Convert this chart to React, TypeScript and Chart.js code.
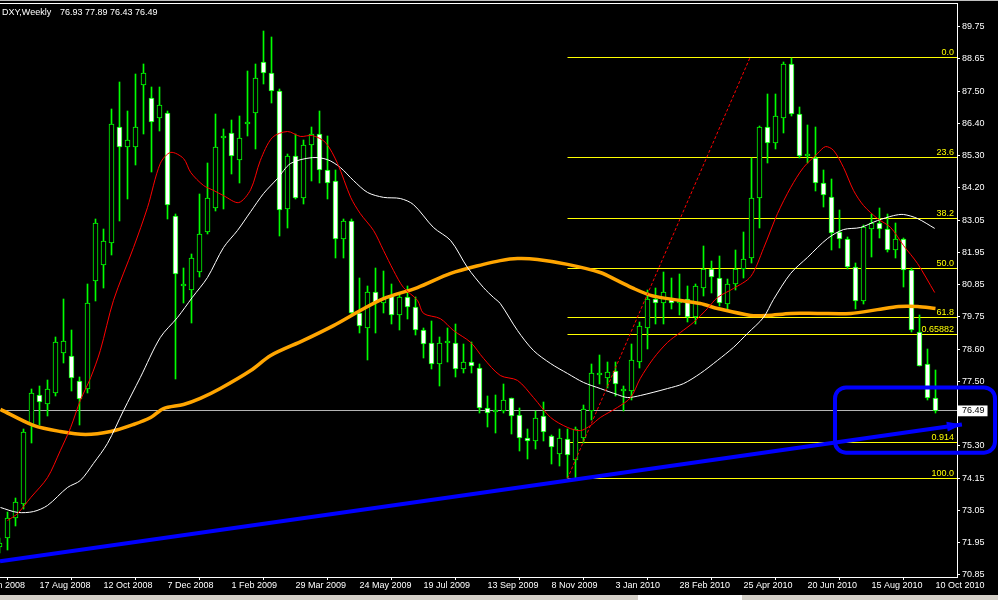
import { useEffect, useRef } from 'react';
import { Chart, registerables } from 'chart.js';

Chart.register(...registerables);

// ---------- data (weekly DXY candles, week index 0 = 13 Jul 2008) ----------
const openPrices = [
  71.80, 72.12, 72.81, 73.29, 76.02, 77.05, 76.71, 77.12, 78.50, 78.37,
  77.53, 77.26, 80.95, 81.53, 82.29, 86.29, 85.57, 85.57, 87.71, 87.29,
  86.60, 86.77, 83.22, 80.81, 80.67, 81.26, 82.67, 83.50, 85.91, 86.08,
  85.15, 86.39, 86.77, 88.50, 88.12, 87.50, 83.46, 85.26, 83.84, 85.67,
  86.05, 84.81, 84.43, 82.43, 83.05, 79.85, 79.33, 80.60, 80.22, 80.46,
  79.81, 80.43, 80.08, 79.29, 78.84, 78.09, 78.84, 78.84, 77.95, 78.19,
  77.98, 76.60, 76.45, 76.50, 76.92, 76.36, 75.57, 75.46, 76.33, 75.64,
  75.02, 75.53, 74.81, 75.57, 76.47, 77.74, 77.64, 77.88, 77.16, 77.19,
  78.16, 79.36, 80.36, 80.22, 80.39, 80.22, 80.36, 79.71, 80.74, 81.39,
  81.08, 80.19, 80.88, 81.39, 81.77, 83.84, 86.26, 85.71, 86.60, 88.43,
  86.74, 85.26, 85.22, 84.36, 83.87, 82.67, 82.43, 81.46, 80.29, 82.77,
  82.98, 82.77, 82.02, 82.43, 81.36, 79.22, 78.09, 76.93,
];
const highPrices = [
  72.10, 73.02, 73.50, 75.88, 77.23, 77.36, 77.57, 79.05, 80.36, 79.29,
  77.67, 80.88, 83.12, 82.77, 86.91, 87.81, 86.84, 88.09, 88.43, 87.67,
  87.64, 86.84, 83.29, 81.43, 81.91, 83.98, 85.05, 86.74, 86.22, 86.50,
  86.67, 88.19, 88.43, 89.57, 89.39, 87.57, 85.36, 86.05, 85.84, 86.26,
  86.81, 85.95, 84.81, 83.12, 83.12, 81.08, 80.81, 81.43, 81.32, 80.88,
  80.57, 80.81, 80.43, 79.36, 79.60, 79.02, 79.33, 79.47, 78.81, 78.88,
  78.12, 77.02, 77.05, 77.43, 76.95, 76.60, 75.85, 76.50, 76.78, 75.67,
  75.88, 75.88, 75.92, 76.68, 78.12, 78.40, 78.16, 78.16, 77.36, 78.81,
  79.57, 80.64, 80.74, 81.29, 81.08, 81.22, 80.81, 80.88, 82.16, 81.64,
  81.84, 81.05, 82.05, 82.67, 85.22, 86.32, 87.40, 87.40, 88.50, 88.67,
  86.95, 86.36, 86.26, 84.78, 84.50, 83.43, 82.50, 81.60, 82.91, 83.29,
  83.50, 83.29, 82.95, 82.46, 81.43, 79.78, 78.64, 77.89,
];
const lowPrices = [
  71.60, 71.68, 72.53, 73.12, 75.40, 76.02, 76.33, 77.00, 78.13, 77.19,
  76.02, 77.12, 80.29, 80.71, 81.88, 83.02, 83.81, 84.98, 86.05, 84.71,
  86.15, 83.12, 77.60, 80.22, 79.53, 81.09, 82.60, 83.39, 83.46, 84.67,
  84.36, 85.98, 85.53, 87.77, 87.09, 82.53, 82.81, 83.81, 83.63, 84.43,
  84.36, 83.81, 81.77, 81.77, 79.78, 79.16, 78.26, 79.16, 79.88, 79.50,
  79.29, 79.64, 79.09, 78.33, 77.95, 77.36, 78.16, 77.67, 77.78, 77.78,
  76.40, 75.92, 75.74, 76.40, 75.71, 75.12, 74.84, 75.19, 75.46, 74.67,
  74.60, 74.16, 74.19, 75.40, 76.16, 77.43, 77.29, 77.02, 76.50, 76.85,
  77.98, 78.64, 79.50, 79.50, 80.01, 79.78, 79.57, 79.47, 80.46, 80.57,
  80.12, 80.01, 80.64, 81.08, 81.60, 82.81, 85.05, 85.53, 86.08, 86.67,
  85.22, 85.02, 84.08, 83.53, 82.02, 82.12, 81.39, 80.01, 80.19, 81.81,
  82.46, 81.95, 81.77, 80.77, 79.22, 78.02, 76.85, 76.43,
];
const closePrices = [
  71.94, 72.81, 73.36, 75.77, 77.12, 76.78, 77.26, 78.88, 78.91, 77.64,
  76.91, 80.22, 82.95, 82.36, 86.39, 85.57, 85.84, 86.29, 88.12, 86.46,
  87.05, 83.60, 81.22, 80.85, 81.77, 82.60, 83.84, 85.57, 85.95, 85.29,
  85.88, 86.43, 87.95, 88.12, 87.50, 83.43, 85.26, 83.84, 85.67, 86.05,
  84.81, 84.36, 82.43, 83.05, 79.85, 79.40, 80.60, 80.22, 80.36, 79.81,
  80.43, 80.08, 79.29, 78.81, 78.09, 78.84, 78.87, 77.95, 78.19, 78.02,
  76.60, 76.43, 76.49, 76.88, 76.33, 75.57, 75.46, 76.26, 75.77, 75.26,
  75.57, 74.98, 75.85, 76.54, 77.78, 77.81, 77.84, 77.43, 77.26, 78.23,
  79.40, 80.36, 80.22, 80.60, 80.22, 80.32, 79.71, 80.78, 81.39, 81.12,
  80.22, 80.88, 81.39, 81.74, 83.84, 86.26, 85.71, 86.67, 88.43, 86.74,
  85.29, 85.29, 84.36, 83.94, 82.63, 82.43, 81.46, 80.29, 82.84, 82.98,
  82.77, 82.02, 82.43, 81.36, 79.29, 78.05, 76.92, 76.49,
];

// moving averages: [week, price]
const redMa: [number, number][] = [
  [1.0, 72.71], [2.25, 72.95], [3.9, 73.50], [6.0, 74.19], [7.6, 75.12], [8.9, 75.92],
  [10.1, 76.85], [11.4, 77.64], [12.6, 78.57], [14.25, 80.30], [16.75, 82.12], [18.5, 83.50],
  [20.1, 85.02], [21.4, 85.40], [23.0, 85.19], [23.9, 84.71], [25.5, 84.26], [26.75, 84.09],
  [28.0, 83.91], [29.9, 83.67], [31.4, 84.12], [32.6, 85.12], [34.1, 85.91], [36.0, 86.12],
  [37.6, 85.95], [39.1, 85.98], [40.75, 85.74], [42.25, 85.02], [43.9, 83.85], [45.1, 83.29],
  [46.75, 82.71], [48.0, 82.02], [49.25, 81.33], [50.5, 80.74], [52.25, 80.30], [53.0, 79.85],
  [55.1, 79.67], [56.75, 79.26], [58.9, 78.85], [60.5, 78.30], [62.6, 77.71], [64.75, 77.54],
  [66.75, 76.95], [68.9, 76.26], [71.0, 75.92], [72.6, 75.81], [73.9, 75.99], [75.1, 76.26],
  [77.25, 76.61], [78.9, 76.95], [80.1, 77.61], [81.75, 78.30], [83.5, 78.85], [85.1, 79.19],
  [86.75, 79.54], [88.5, 80.02], [89.75, 80.40], [91.75, 80.71], [93.9, 81.12], [95.5, 82.09],
  [97.25, 83.29], [98.9, 84.19], [100.5, 84.88], [102.25, 85.36], [103.25, 85.60], [104.25, 85.47],
  [105.5, 84.88], [106.75, 84.09], [108.0, 83.57], [109.75, 83.12], [111.4, 82.81], [113.0, 82.19],
  [114.75, 81.57], [116.9, 80.57],
];
const whiteMa: [number, number][] = [
  [0.125, 73.16], [2.25, 72.99], [4.25, 73.02], [6.0, 73.23], [8.5, 73.85], [10.1, 74.09],
  [11.75, 74.68], [13.5, 75.37], [15.5, 76.50], [17.6, 77.64], [20.1, 79.02], [22.25, 79.71],
  [24.1, 80.40], [26.0, 81.09], [28.0, 82.12], [29.75, 82.71], [31.4, 83.36], [33.0, 83.98],
  [34.75, 84.50], [36.4, 85.02], [39.1, 85.22], [41.0, 85.15], [42.6, 84.88], [44.25, 84.43],
  [46.0, 84.02], [48.0, 83.85], [50.1, 83.81], [51.75, 83.60], [54.25, 82.81], [56.4, 82.36],
  [58.5, 81.43], [60.5, 80.74], [61.75, 80.40], [62.6, 80.19], [64.75, 79.26], [66.75, 78.57],
  [68.9, 78.12], [71.0, 77.78], [73.0, 77.47], [75.1, 77.26], [77.25, 77.05], [78.5, 76.95],
  [80.1, 77.02], [83.5, 77.26], [85.5, 77.43], [87.6, 77.78], [89.75, 78.23], [91.75, 78.68],
  [93.5, 79.16], [95.5, 79.71], [96.75, 80.33], [98.9, 81.23], [101.0, 81.78], [103.5, 82.43],
  [105.5, 82.74], [107.6, 82.81], [109.75, 83.05], [111.75, 83.22], [113.0, 83.26], [114.75, 83.12],
  [116.9, 82.78],
];
const orangeMa: [number, number][] = [
  [0.125, 76.54], [4.25, 75.99], [7.6, 75.78], [10.75, 75.68], [13.9, 75.78], [16.75, 76.02],
  [18.9, 76.26], [20.5, 76.57], [23.0, 76.71], [25.1, 76.92], [27.6, 77.26], [31.4, 77.88],
  [33.9, 78.40], [38.0, 78.92], [41.75, 79.43], [45.1, 79.95], [48.0, 80.36], [52.25, 80.74],
  [56.4, 81.23], [60.5, 81.54], [62.6, 81.67], [64.75, 81.74], [67.25, 81.71], [71.0, 81.54],
  [75.1, 81.26], [77.25, 80.98], [79.25, 80.71], [81.4, 80.47], [83.5, 80.36], [87.6, 80.19],
  [89.75, 80.02], [93.9, 79.78], [96.0, 79.78], [98.9, 79.85], [102.25, 79.85], [106.4, 79.85],
  [109.75, 79.98], [112.4, 80.09], [114.75, 80.09], [117.0, 80.02],
];

// axis ticks
const dateTickWeeks = [-3, 5, 13, 21, 29, 37, 45, 53, 61, 69, 77, 85, 93, 101, 109, 117];
const dateTickLabels = [
  '22 Jun 2008', '17 Aug 2008', '12 Oct 2008', '7 Dec 2008', '1 Feb 2009', '29 Mar 2009',
  '24 May 2009', '19 Jul 2009', '13 Sep 2009', '8 Nov 2009', '3 Jan 2010', '28 Feb 2010',
  '25 Apr 2010', '20 Jun 2010', '15 Aug 2010', '10 Oct 2010',
];
const priceTicks = [
  89.75, 88.65, 87.5, 86.4, 85.3, 84.2, 83.05, 81.95, 80.85, 79.75, 78.6, 77.5,
  76.49, 75.3, 74.15, 73.05, 71.95, 70.85,
];
const lastPrice = 76.49;
const titleText = 'DXY,Weekly';
const titleValues = '76.93 77.89 76.43 76.49';

// Fibonacci retracement
const fibLabels = ['0.0', '23.6', '38.2', '50.0', '61.8', '0.65882', '0.914', '100.0'];
const fibLevels = [88.66, 85.24, 83.12, 81.41, 79.70, 79.11, 75.41, 74.16];
const fibStartWeek = 71;
const fibAnchorWeeks = [71, 93.8];
const fibAnchorPrices = [74.16, 88.66];

// hand-drawn trend line and highlight box
const trendWeeks = [0.0625, 120.3];
const trendPrices = [71.31, 76.02];
const boxWeeks = [104.44, 124.44];
const boxPrices = [77.3, 75.05];

// ---------- layout constants ----------
const X_MIN = 0.0625;
const X_MAX = 119.6875;
const Y_MIN = 70.764;
const Y_MAX = 90.515;
const FONT = 'Liberation Sans';

const annotations = {
  id: 'mtAnnotations',
  beforeDraw(chart: any) {
    const { ctx, width, height, chartArea } = chart;
    ctx.save();
    ctx.fillStyle = '#000';
    ctx.fillRect(0, 0, width, height);
    ctx.fillStyle = '#c0c0c0';
    ctx.fillRect(0, 0, width, 1);
    ctx.fillStyle = '#ffffff';
    ctx.fillRect(0, 3, chartArea.right + 1, 1);
    ctx.fillStyle = '#d4d0c8';
    ctx.fillRect(0, 595, width, 5);
    ctx.fillStyle = '#ffffff';
    ctx.fillRect(638, 595, 104, 5);
    ctx.restore();
  },
  beforeDatasetsDraw(chart: any) {
    // snap horizontal edges to whole pixels (crisp like the terminal)
    chart.data.datasets.forEach((ds: any, i: number) => {
      const meta = chart.getDatasetMeta(i);
      if (ds.snapLine) {
        meta.data.forEach((p: any) => { p.y = Math.floor(p.y) + 0.5; });
      } else if (ds.snapBar) {
        meta.data.forEach((p: any) => {
          p.y = Math.round(p.y);
          p.base = Math.round(p.base);
        });
      }
    });
  },
  afterDatasetsDraw(chart: any) {
    const { ctx, chartArea } = chart;
    const ys = chart.scales.y;
    ctx.save();
    ctx.font = `9px "${FONT}"`;
    ctx.fillStyle = '#ffff00';
    ctx.textAlign = 'right';
    ctx.textBaseline = 'alphabetic';
    fibLabels.forEach((t, i) => {
      const y = Math.floor(ys.getPixelForValue(fibLevels[i]));
      ctx.fillText(t, chartArea.right - 3, y - 2);
    });
    ctx.restore();
  },
  afterDraw(chart: any) {
    const { ctx } = chart;
    const xs = chart.scales.x;
    const ys = chart.scales.y;
    ctx.save();
    // title
    ctx.font = `9px "${FONT}"`;
    ctx.fillStyle = '#ffffff';
    ctx.textAlign = 'left';
    ctx.textBaseline = 'alphabetic';
    ctx.fillText(titleText, 2, 15);
    ctx.fillText(titleValues, 60, 15);
    // arrow head of trend line
    const x0 = xs.getPixelForValue(trendWeeks[0]);
    const y0 = ys.getPixelForValue(trendPrices[0]);
    const x1 = xs.getPixelForValue(trendWeeks[1]);
    const y1 = ys.getPixelForValue(trendPrices[1]);
    const a = Math.atan2(y1 - y0, x1 - x0);
    const L = 15, W = 5;
    const c = Math.cos(a), s = Math.sin(a);
    ctx.fillStyle = '#0000ff';
    ctx.beginPath();
    ctx.moveTo(x1, y1);
    ctx.lineTo(x1 - L * c + W * s, y1 - L * s - W * c);
    ctx.lineTo(x1 - L * c - W * s, y1 - L * s + W * c);
    ctx.closePath();
    ctx.fill();
    // highlight box
    const bx0 = xs.getPixelForValue(boxWeeks[0]);
    const bx1 = xs.getPixelForValue(boxWeeks[1]);
    const by0 = ys.getPixelForValue(boxPrices[0]);
    const by1 = ys.getPixelForValue(boxPrices[1]);
    ctx.strokeStyle = '#0000ff';
    ctx.lineWidth = 4;
    ctx.beginPath();
    (ctx as any).roundRect(bx0, by0, bx1 - bx0, by1 - by0, 11);
    ctx.stroke();
    ctx.restore();
  },
};

export default function App() {
  const ref = useRef<HTMLCanvasElement>(null);
  useEffect(() => {
    if (!ref.current) return;
    const wickData = highPrices.map((h, i) => ({ x: i, y: [lowPrices[i], h] }));
    const bodyData = openPrices.map((o, i) => ({ x: i, y: [o, closePrices[i]] }));
    const bodyColors = openPrices.map((o, i) => (closePrices[i] >= o ? '#000000' : '#ffffff'));
    const toPts = (arr: [number, number][]) => arr.map(([x, y]) => ({ x, y }));

    const lineBase = { type: 'line' as const, pointRadius: 0, fill: false, borderJoinStyle: 'round' as const };

    const datasets: any[] = [
      {
        ...lineBase,
        label: 'trend',
        data: trendWeeks.map((x, i) => ({ x, y: trendPrices[i] })),
        borderColor: '#0000ff',
        borderWidth: 4,
        clip: false,
        order: 0,
      },
      {
        ...lineBase,
        label: 'fib anchor',
        data: fibAnchorWeeks.map((x, i) => ({ x, y: fibAnchorPrices[i] })),
        borderColor: '#ff0000',
        borderWidth: 1,
        borderDash: [3, 2],
        order: 1,
      },
      {
        ...lineBase,
        label: 'MA red',
        data: toPts(redMa),
        borderColor: '#ff0000',
        borderWidth: 1,
        tension: 0.3,
        order: 2,
      },
      {
        ...lineBase,
        label: 'MA white',
        data: toPts(whiteMa),
        borderColor: '#ffffff',
        borderWidth: 1,
        tension: 0.3,
        order: 3,
      },
      {
        ...lineBase,
        label: 'MA orange',
        data: toPts(orangeMa),
        borderColor: '#ffa500',
        borderWidth: 3.5,
        tension: 0.3,
        order: 4,
      },
      {
        type: 'bar',
        label: 'body',
        data: bodyData,
        backgroundColor: bodyColors,
        borderColor: '#00ff00',
        borderWidth: 1,
        borderSkipped: false,
        barThickness: 5,
        minBarLength: 2,
        grouped: false,
        snapBar: true,
        order: 5,
      },
      {
        type: 'bar',
        label: 'wick',
        data: wickData,
        backgroundColor: '#00ff00',
        borderWidth: 0,
        barThickness: 1,
        grouped: false,
        snapBar: true,
        order: 6,
      },
      ...fibLevels.map((lv, i) => ({
        ...lineBase,
        label: 'fib ' + fibLabels[i],
        data: [{ x: fibStartWeek, y: lv }, { x: X_MAX, y: lv }],
        borderColor: '#ffff00',
        borderWidth: 1,
        snapLine: true,
        order: 7,
      })),
      {
        ...lineBase,
        label: 'price',
        data: [{ x: X_MIN, y: lastPrice }, { x: X_MAX, y: lastPrice }],
        borderColor: '#b4b4b4',
        borderWidth: 1,
        snapLine: true,
        order: 8,
      },
    ];

    const chart = new Chart(ref.current, {
      type: 'bar',
      data: { datasets },
      options: {
        responsive: false,
        animation: false,
        events: [],
        layout: { padding: { top: 4, left: 0, right: 0, bottom: 0 } },
        plugins: {
          legend: { display: false },
          tooltip: { enabled: false },
          title: { display: false },
        },
        scales: {
          x: {
            type: 'linear',
            position: 'bottom',
            min: X_MIN,
            max: X_MAX,
            bounds: 'data',
            offset: false,
            afterBuildTicks: (s: any) => {
              s.ticks = dateTickWeeks.map((v) => ({ value: v }));
            },
            afterFit: (s: any) => {
              s.height = 23;
              s.paddingLeft = 0;
              s.paddingRight = 0;
            },
            ticks: {
              autoSkip: false,
              maxRotation: 0,
              minRotation: 0,
              align: 'start',
              padding: 0,
              color: '#ffffff',
              font: { family: FONT, size: 9 },
              callback: (_v: any, i: number) => dateTickLabels[i],
            },
            grid: { display: true, drawOnChartArea: false, drawTicks: true, tickLength: 3, color: '#ffffff' },
            border: { display: true, color: '#ffffff', width: 1 },
          },
          y: {
            type: 'linear',
            position: 'right',
            min: Y_MIN,
            max: Y_MAX,
            bounds: 'data',
            afterBuildTicks: (s: any) => {
              s.ticks = priceTicks.map((v) => ({ value: v }));
            },
            afterFit: (s: any) => {
              s.width = 41;
              s.paddingTop = 0;
              s.paddingBottom = 0;
            },
            ticks: {
              autoSkip: false,
              padding: 2,
              font: { family: FONT, size: 9 },
              color: (c: any) => (c.tick && c.tick.value === lastPrice ? '#000000' : '#ffffff'),
              showLabelBackdrop: (c: any) => !!(c.tick && c.tick.value === lastPrice),
              backdropColor: '#ffffff',
              backdropPadding: { left: 4, right: 3, top: 0, bottom: 0 },
              callback: (v: any) => Number(v).toFixed(2),
            },
            grid: { display: true, drawOnChartArea: false, drawTicks: true, tickLength: 3, color: '#ffffff' },
            border: { display: true, color: '#ffffff', width: 1 },
          },
        },
      } as any,
      plugins: [annotations],
    });
    return () => chart.destroy();
  }, []);

  return (
    <div style={{ position: 'fixed', left: 0, top: 0, width: 998, height: 600, background: '#000' }}>
      <canvas ref={ref} width={998} height={600} style={{ display: 'block', width: 998, height: 600 }} />
    </div>
  );
}
